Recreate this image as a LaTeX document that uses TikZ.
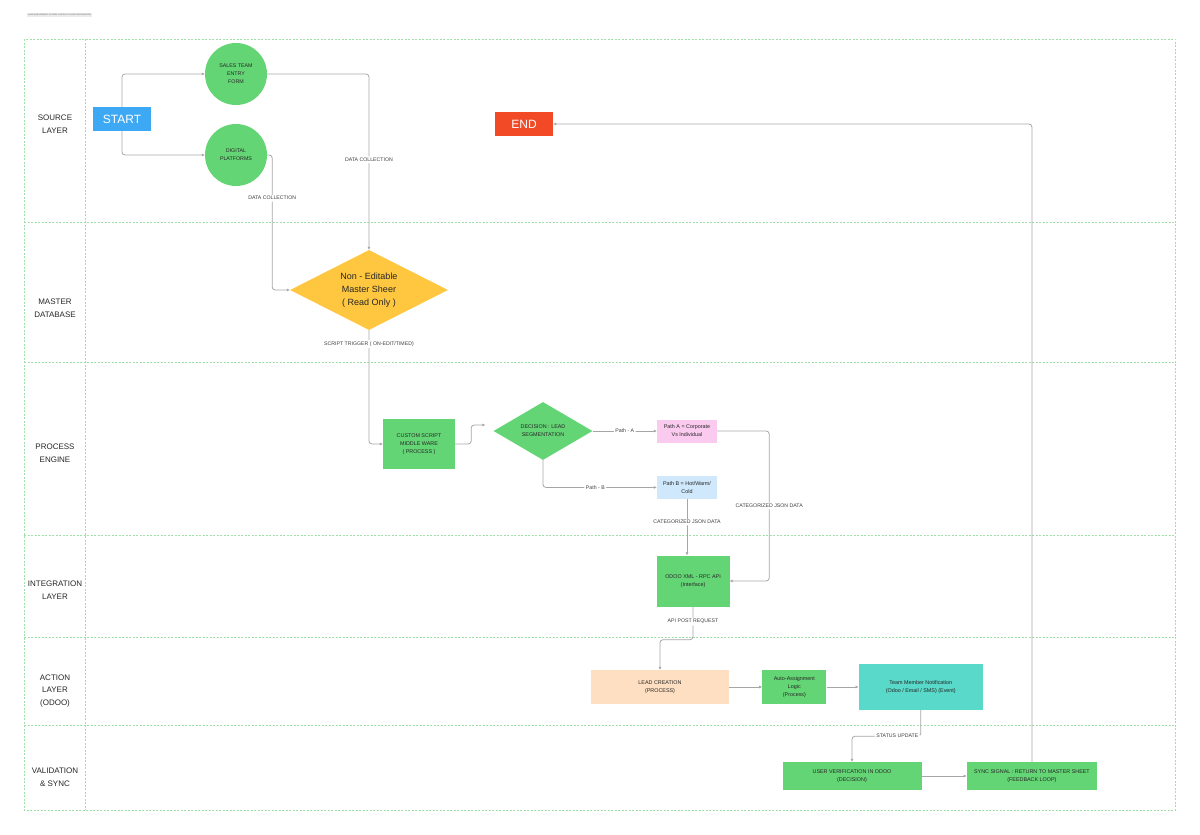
\documentclass[tikz,border=0pt]{standalone}
\usepackage{fontspec}
\setmainfont{Liberation Sans}
\usetikzlibrary{shapes.geometric, positioning, arrows.meta}
\definecolor{lanegreen}{HTML}{9FE0A8}
\definecolor{startblue}{HTML}{3DA9F5}
\definecolor{endred}{HTML}{F24A26}
\definecolor{nodegreen}{HTML}{64D575}
\definecolor{sheetyellow}{HTML}{FFC73F}
\definecolor{pathpink}{HTML}{FBCBEF}
\definecolor{pathblue}{HTML}{CFE8FC}
\definecolor{leadpeach}{HTML}{FFDFC1}
\definecolor{notifteal}{HTML}{58D9C9}
\tikzset{
    lane/.style={
        draw=lanegreen,
        dash pattern=on 2pt off 1.5pt,
        line width=0.8pt,
    },
    lanelabel/.style={align=center, text=black!85, font=\fontsize{8}{12.5}\selectfont},
    terminal/.style={
        rectangle,
        minimum width=58pt,
        minimum height=24pt,
        text=white,
        font=\fontsize{12}{14}\selectfont,
    },
    source/.style={
        circle,
        fill=nodegreen,
        minimum size=62pt,
        inner sep=0pt,
        align=center,
        text=black!85,
        font=\fontsize{5.3}{8}\selectfont,
    },
    stepbox/.style={
        rectangle,
        fill=nodegreen,
        align=center,
        inner sep=2pt,
        text=black!85,
        font=\fontsize{5.4}{8}\selectfont,
    },
    decision/.style={diamond, inner sep=0pt, align=center, text=black!85},
    flow/.style={draw=black!35, line width=0.8pt, rounded corners=3pt, -{Latex[length=3pt, width=3pt]}},
    tag/.style={fill=white, inner sep=1.5pt, text=black!75, font=\fontsize{5.2}{6}\selectfont},
}

\begin{document}
\begin{tikzpicture}[x=1pt, y=-1pt]
    \useasboundingbox (0,0) rectangle (1200,835);
    \node[fill=black!8, inner sep=1pt, anchor=west, text=black!60, font=\fontsize{2}{2.4}\selectfont] (title) at (27,15) {LEAD MANAGEMENT SYSTEM: GOOGLE TO ODOO INTEGRATION};

    % swimlanes
    \draw[lane] (24,39) rectangle (1175,810);
    \draw[lane] (85,39) -- (85,810);
    \foreach \y in {222,362,535,637,725}
        \draw[lane] (24,\y) -- (1175,\y);
    \foreach \y/\txt in {124/{SOURCE\\LAYER}, 308/{MASTER\\DATABASE}, 453/{PROCESS\\ENGINE}, 590/{INTEGRATION\\LAYER}, 691/{ACTION\\LAYER\\(ODOO)}, 777/{VALIDATION\\\& SYNC}}
        \node[lanelabel] (lane\y) at (55,\y) {\txt};

    % source layer
    \node[terminal, fill=startblue] (start) at (122,119) {START};
    \node[source] (sales) at (236,74) {SALES TEAM\\ENTRY\\FORM};
    \node[source] (digital) at (236,155) {DIGITAL\\PLATFORMS};
    \node[terminal, fill=endred] (end) at (524,124) {END};

    % master database
    \node[decision, aspect=2, fill=sheetyellow, minimum width=158pt, minimum height=80pt, font=\fontsize{9}{13}\selectfont] (sheet) at (369,290) {Non - Editable\\Master Sheer\\( Read Only )};

    % process engine
    \node[stepbox, minimum width=72pt, minimum height=50pt] (script) at (419,444) {CUSTOM SCRIPT\\MIDDLE WARE\\( PROCESS )};
    \node[decision, fill=nodegreen, minimum width=99pt, minimum height=58pt, font=\fontsize{5.4}{8}\selectfont] (segment) at (543,431) {DECISION : LEAD\\SEGMENTATION};
    \node[stepbox, fill=pathpink, minimum width=60pt, minimum height=23pt] (patha) at (687,431) {Path A = Corporate\\Vs Individual};
    \node[stepbox, fill=pathblue, minimum width=60pt, minimum height=23pt, below=33pt of patha] (pathb) {Path B = Hot/Warm/\\Cold};

    % integration and action
    \node[stepbox, minimum width=73pt, minimum height=51pt] (odoo) at (693,581) {ODOO XML - RPC API\\(Interface)};
    \node[stepbox, fill=leadpeach, minimum width=138pt, minimum height=34pt] (lead) at (660,687) {LEAD CREATION\\(PROCESS)};
    \node[stepbox, minimum width=64pt, minimum height=34pt, right=33pt of lead] (assign) {Auto-Assignment\\Logic\\(Process)};
    \node[stepbox, fill=notifteal, minimum width=124pt, minimum height=46pt, right=32pt of assign] (notify) {Team Member Notification\\(Odoo / Email / SMS) (Event)};

    % validation
    \node[stepbox, minimum width=139pt, minimum height=28pt] (verify) at (852,776) {USER VERIFICATION IN ODOO\\(DECISION)};
    \node[stepbox, minimum width=130pt, minimum height=28pt, right=45pt of verify] (sync) {SYNC SIGNAL : RETURN TO MASTER SHEET\\(FEEDBACK LOOP)};

    % connectors
    \draw[flow] (start.north) |- (sales.west);
    \draw[flow] (start.south) |- (digital.west);
    \draw[flow] (sales.east) -| node[tag, pos=0.744] {DATA COLLECTION} (sheet.north);
    \draw[flow] (digital.east) -- ++(5,0) |- node[tag, pos=0.16] {DATA COLLECTION} (sheet.west);
    \draw[flow] (sheet.south) |- node[tag, pos=0.06] {SCRIPT TRIGGER ( ON-EDIT/TIMED)} (script.west);
    \draw[flow] (script.east) -- ++(16,0) |- ([xshift=-8pt, yshift=6pt]segment.west);
    \draw[flow] (segment.east) -- node[tag] {Path - A} (patha.west);
    \draw[flow] (segment.south) |- node[tag, pos=0.73] {Path - B} (pathb.west);
    \draw[flow] (pathb.south) -- node[tag, pos=0.41] {CATEGORIZED JSON DATA} (pathb.south |- odoo.north);
    \draw[flow] (patha.east) -- ++(52,0) |- node[tag, pos=0.25] {CATEGORIZED JSON DATA} (odoo.east);
    \draw[flow] (odoo.south) -- node[tag, pos=0.45] {API POST REQUEST} ++(0,33) -| (lead.north);
    \draw[flow] (lead) -- (assign);
    \draw[flow] (assign) -- (notify);
    \draw[flow] (notify.south) -- ++(0,26) -| node[tag, pos=0.17] {STATUS UPDATE} (verify.north);
    \draw[flow] (verify) -- (sync);
    \draw[flow] (sync.north) |- (end.east);
\end{tikzpicture}
\end{document}
